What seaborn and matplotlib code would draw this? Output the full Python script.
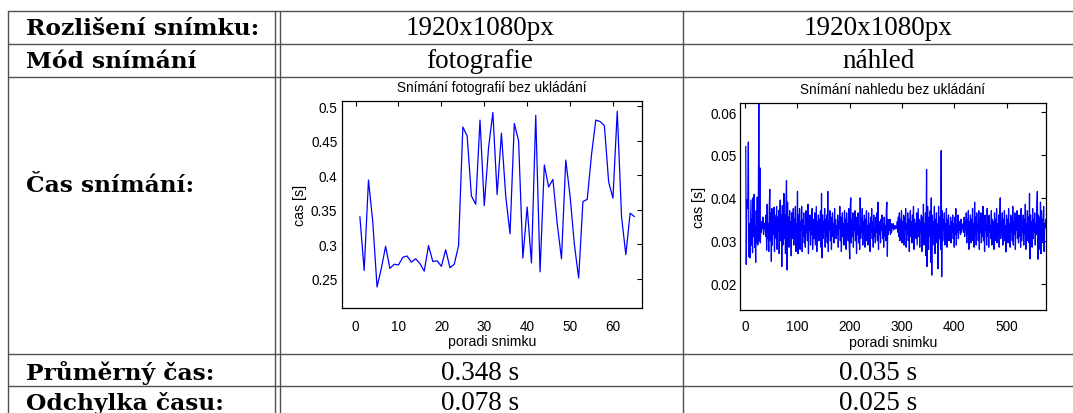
import numpy as np
import pandas as pd
import matplotlib
matplotlib.use('Agg')
import matplotlib.pyplot as plt
from matplotlib.ticker import FuncFormatter
import seaborn as sns

# Table content
row_labels = ['Rozlišení snímku:', 'Mód snímání', 'Čas snímání:', 'Průměrný čas:', 'Odchylka času:']
photo_col = ['1920x1080px', 'fotografie', '', '0.348 s', '0.078 s']
preview_col = ['1920x1080px', 'náhled', '', '0.035 s', '0.025 s']

# Capture times of photos [s], frame 1..65
photo_times = [0.340, 0.262, 0.393, 0.333, 0.238, 0.265, 0.297, 0.265, 0.271, 0.270,
               0.281, 0.283, 0.274, 0.279, 0.272, 0.261, 0.298, 0.275, 0.276, 0.268,
               0.292, 0.266, 0.271, 0.298, 0.470, 0.457, 0.370, 0.358, 0.480, 0.356,
               0.440, 0.491, 0.372, 0.461, 0.370, 0.315, 0.475, 0.450, 0.280, 0.354,
               0.273, 0.487, 0.260, 0.415, 0.383, 0.394, 0.330, 0.279, 0.422, 0.370,
               0.300, 0.251, 0.362, 0.365, 0.430, 0.480, 0.478, 0.472, 0.390, 0.367,
               0.493, 0.340, 0.285, 0.345, 0.340]

# Capture times of preview frames [ms]
preview_ms = [
    52.0, 24.5, 39.5, 37.5, 40.0, 53.0, 26.3, 34.0, 26.0, 33.0, 39.5, 29.0, 35.0, 27.2, 40.0, 31.0, 40.8, 28.5, 33.5, 25.0, 37.0, 29.5, 40.2, 29.0, 34.0,
    62.5, 30.0, 47.0, 29.5, 34.0, 32.0, 34.5, 33.0, 35.5, 31.5, 33.8, 32.8, 34.2, 31.0, 36.0, 27.8, 38.5, 30.5, 34.0, 27.5, 37.8, 42.0, 30.0, 36.5, 25.2,
    37.5, 29.0, 34.8, 31.5, 37.8, 27.5, 36.0, 33.0, 30.5, 38.0, 28.0, 35.5, 32.0, 37.0, 27.0, 35.0, 39.5, 30.0, 36.0, 24.0, 38.2, 29.0, 34.0, 41.0, 30.5,
    36.0, 27.0, 38.5, 44.0, 23.2, 39.0, 30.0, 35.5, 28.5, 37.0, 31.0, 34.5, 26.5, 36.5, 33.0, 30.5, 37.5, 29.0, 35.0, 32.0, 38.0, 27.5, 34.0, 31.5, 41.5,
    27.0, 36.0, 30.5, 37.5, 28.0, 34.5, 32.5, 38.0, 27.5, 35.0, 31.0, 36.5, 29.5, 33.5, 28.5, 37.0, 32.0, 34.0, 30.0, 38.5, 27.0, 35.5, 32.5, 36.0, 29.0,
    34.0, 31.5, 37.5, 28.0, 35.0, 33.0, 30.5, 36.5, 29.0, 33.5, 38.0, 27.5, 34.5, 31.0, 36.0, 30.0, 35.0, 32.5, 37.0, 28.5, 41.0, 26.0, 36.0, 30.5, 34.5,
    32.0, 37.5, 28.5, 35.0, 31.0, 36.0, 29.5, 41.5, 27.5, 34.5, 32.5, 37.0, 30.0, 35.5, 28.0, 33.5, 36.5, 31.0, 34.0, 29.5, 37.5, 32.0, 35.0, 30.5, 33.5,
    31.5, 36.0, 28.5, 34.5, 33.0, 38.0, 30.0, 35.5, 27.5, 33.5, 36.5, 31.0, 34.0, 29.0, 37.0, 32.5, 35.0, 28.0, 36.5, 31.5, 34.0, 30.0, 37.5, 29.0, 25.8,
    38.0, 40.0, 29.5, 35.0, 31.0, 36.5, 28.5, 34.0, 32.5, 37.0, 30.0, 35.5, 27.0, 34.0, 31.5, 36.5, 29.5, 33.5, 28.0, 40.0, 30.5, 35.0, 32.0, 37.5, 29.0,
    34.5, 31.5, 36.0, 28.5, 35.0, 32.5, 37.0, 30.0, 33.5, 29.0, 36.5, 31.5, 34.0, 27.5, 35.5, 32.0, 37.5, 30.5, 34.5, 28.5, 36.0, 31.0, 33.0, 29.5, 35.5,
    32.0, 36.5, 30.0, 39.0, 28.0, 34.5, 31.5, 33.5, 29.5, 35.0, 32.5, 36.0, 30.5, 34.0, 28.5, 35.5, 31.0, 33.5, 30.0, 37.0, 39.0, 26.4, 35.0, 31.5, 34.0,
    32.5, 35.0, 31.5, 34.0, 32.0, 33.5, 33.0, 34.0, 32.5, 33.5, 33.0, 33.5, 32.8, 33.2, 33.0, 34.5, 32.0, 35.5, 31.0, 36.5, 30.0, 35.0, 32.5, 37.0, 29.5,
    34.5, 31.0, 36.0, 29.0, 35.5, 32.5, 37.5, 28.5, 34.0, 31.5, 36.5, 30.0, 35.0, 27.5, 33.5, 37.0, 31.0, 34.5, 29.5, 36.0, 32.0, 38.0, 28.0, 35.0, 31.5,
    34.0, 30.5, 36.5, 29.0, 33.5, 37.5, 31.0, 35.0, 28.5, 34.5, 32.0, 36.0, 27.5, 35.5, 30.0, 38.5, 29.0, 34.0, 31.5, 36.5, 26.5, 46.6, 24.0, 38.0, 30.5,
    28.0, 35.5, 31.0, 37.0, 25.0, 40.0, 22.0, 36.0, 29.0, 34.5, 31.5, 38.0, 27.0, 35.0, 32.0, 36.5, 29.5, 34.0, 23.5, 38.0, 30.5, 35.5, 31.0, 28.0, 51.0,
    21.6, 37.0, 30.0, 35.0, 32.5, 36.5, 29.0, 34.0, 31.0, 37.5, 28.5, 35.0, 32.0, 36.0, 30.0, 33.5, 31.5, 35.5, 29.5, 34.5, 32.0, 36.0, 30.5, 34.0, 28.5,
    35.5, 31.5, 37.5, 29.0, 34.0, 32.0, 36.0, 30.5, 33.5, 32.5, 34.5, 31.5, 35.0, 32.0, 33.5, 33.0, 34.0, 32.0, 35.5, 31.0, 34.5, 32.5, 36.5, 29.5, 35.0,
    31.5, 37.0, 28.0, 34.5, 32.0, 36.0, 29.5, 35.0, 31.0, 37.5, 30.0, 34.0, 28.5, 39.0, 31.5, 35.5, 29.0, 36.5, 32.5, 34.0, 30.0, 37.0, 28.0, 35.0, 32.0,
    36.5, 29.5, 34.5, 31.0, 38.0, 30.0, 35.0, 27.5, 36.0, 32.5, 34.0, 29.0, 37.5, 31.0, 35.5, 28.5, 36.0, 32.0, 33.5, 30.5, 37.0, 29.0, 35.0, 31.5, 34.5,
    28.0, 36.5, 32.0, 35.0, 30.0, 37.5, 29.5, 34.0, 31.0, 36.0, 28.5, 35.5, 40.0, 30.5, 34.5, 32.0, 36.5, 29.0, 35.0, 31.5, 37.0, 30.0, 33.5, 27.4, 36.0,
    32.5, 35.0, 29.5, 37.5, 31.0, 34.0, 28.5, 36.0, 32.0, 35.5, 30.0, 38.0, 29.0, 34.5, 31.5, 36.5, 28.0, 35.0, 32.5, 37.0, 30.5, 34.0, 29.5, 36.0, 31.0,
    35.5, 28.5, 37.5, 30.0, 34.5, 32.0, 36.0, 29.0, 35.0, 31.5, 38.5, 28.0, 34.0, 32.5, 37.0, 30.0, 35.5, 29.5, 41.0, 25.8, 36.0, 31.0, 34.5, 28.5, 37.5,
    30.5, 35.0, 32.0, 36.5, 29.0, 34.0, 31.5, 38.0, 41.5, 25.7, 36.0, 30.0, 35.5, 28.0, 39.0, 27.0, 37.0, 31.0, 35.0, 29.5, 38.0, 27.5, 34.0, 33.0, 35.0,
]

photo_df = pd.DataFrame({'frame': np.arange(1, len(photo_times) + 1), 'time': photo_times})
preview_df = pd.DataFrame({'frame': np.arange(1, len(preview_ms) + 1),
                           'time': np.array(preview_ms) / 1000.0})

sns.set_style('white')
plt.rcParams['font.family'] = ['Liberation Sans', 'DejaVu Sans']
plt.rcParams['text.color'] = 'black'
plt.rcParams['axes.labelcolor'] = 'black'

W, H = 1073, 414
fig = plt.figure(figsize=(W / 100, H / 100), dpi=100)

# table grid drawn on a full-figure axes in pixel coordinates
tab = fig.add_axes([0, 0, 1, 1])
tab.set_xlim(0, W)
tab.set_ylim(H, 0)
tab.axis('off')
line_col = '#505050'
for y in [12.3, 44.5, 77.5, 354.5, 387.5]:
    tab.plot([8.3, W], [y, y], color=line_col, lw=1.0)
for x in [8.3, 275.3, 280.3, 683.3]:
    tab.plot([x, x], [12.3, H], color=line_col, lw=1.0)

baselines = [35, 68.3, 192.3, 380, 410]
for lab, y in zip(row_labels, baselines):
    tab.text(26, y, lab, ha='left', va='baseline', fontsize=16.8,
             fontweight='bold', family='DejaVu Serif', color='black')
for txt, y in zip(photo_col, baselines):
    if txt:
        tab.text(480, y, txt, ha='center', va='baseline', fontsize=19.5,
                 family='Liberation Serif', color='black')
for txt, y in zip(preview_col, baselines):
    if txt:
        tab.text(878.5, y, txt, ha='center', va='baseline', fontsize=19.5,
                 family='Liberation Serif', color='black')


def style_axes(ax, xpad, ypad):
    for sp in ax.spines.values():
        sp.set_visible(True)
        sp.set_color('black')
        sp.set_linewidth(0.9)
    ax.tick_params(direction='in', top=True, right=True, length=3.5, width=0.8,
                   labelsize=9.8, colors='black')
    ax.tick_params(axis='x', pad=xpad)
    ax.tick_params(axis='y', pad=ypad)
    ax.yaxis.set_major_formatter(FuncFormatter(lambda v, p: '%g' % round(v, 4)))
    ax.set_xlabel('poradi snimku', fontsize=10.2, labelpad=1)
    ax.set_ylabel('cas [s]', fontsize=10.2, labelpad=3)


# left plot - photos
ax1 = fig.add_axes([342.3 / W, 1 - 308.7 / H, 299.4 / W, 206.7 / H])
sns.lineplot(data=photo_df, x='frame', y='time', ax=ax1, color='#0000ff', linewidth=0.9)
ax1.set_xlim(-3.1, 66.7)
ax1.set_ylim(0.208, 0.5077)
ax1.set_xticks(np.arange(0, 61, 10))
ax1.set_yticks(np.arange(0.25, 0.501, 0.05))
style_axes(ax1, 8, 3.5)
ax1.set_title('Snímání fotografií bez ukládání', fontsize=9.8, pad=7)

# right plot - preview
ax2 = fig.add_axes([740 / W, 1 - 311.3 / H, 305.7 / W, 207.3 / H])
sns.lineplot(data=preview_df, x='frame', y='time', ax=ax2, color='#0000ff', linewidth=0.9)
ax2.set_xlim(-10, 575)
ax2.set_ylim(0.0138, 0.0621)
ax2.set_xticks(np.arange(0, 501, 100))
ax2.set_yticks(np.arange(0.02, 0.0601, 0.01))
style_axes(ax2, 6.5, 2.5)
ax2.set_title('Snímání nahledu bez ukládání', fontsize=9.8, pad=7)

fig.savefig('out.png', dpi=100)
